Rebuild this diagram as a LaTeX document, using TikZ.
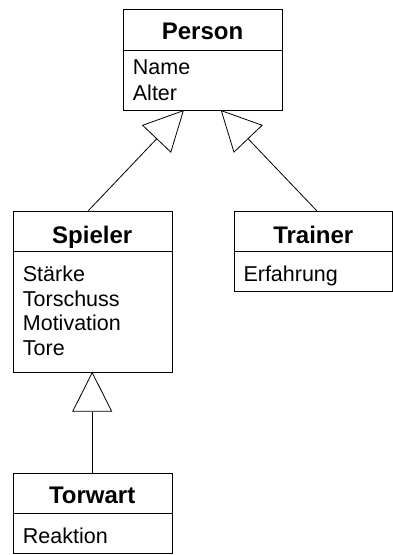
\documentclass[tikz,border=0pt]{standalone}
\usepackage{fontspec}
\setmainfont{Liberation Sans}
\usetikzlibrary{arrows.meta,calc}
\begin{document}
\begin{tikzpicture}[x=1pt,y=-1pt,
  classbox/.style={draw=black,line width=0.9pt,fill=white,inner sep=0pt,anchor=north west},
  divider/.style={draw=black,line width=0.9pt},
  titletext/.style={inner sep=0pt,anchor=base,font=\bfseries\fontsize{24}{28}\selectfont},
  attrtext/.style={inner sep=0pt,anchor=base west,font=\fontsize{21.5}{25}\selectfont},
  inherit/.style={draw=black,line width=0.8pt,-{Triangle[open,length=40pt,width=40pt,fill=white]}}
]
\useasboundingbox (0,0) rectangle (393,555);

% Person
\node[classbox,minimum width=158.4pt,minimum height=100.7pt] (person) at (123.3,9.3) {};
\draw[divider] ($(person.north west)+(0,40.7)$) -- ($(person.north east)+(0,40.7)$);
\node[titletext] (personT) at (202.5,39.3) {Person};
\node[attrtext] (personA1) at (132.7,74) {Name};
\node[attrtext] (personA2) at (132.7,100) {Alter};

% Spieler
\node[classbox,minimum width=159pt,minimum height=161pt] (spieler) at (12.7,210.7) {};
\draw[divider] ($(spieler.north west)+(0,40.3)$) -- ($(spieler.north east)+(0,40.3)$);
\node[titletext] (spielerT) at (92.2,243) {Spieler};
\node[attrtext] (spielerA1) at (22.7,281.7) {Stärke};
\node[attrtext] (spielerA2) at (22.7,306) {Torschuss};
\node[attrtext] (spielerA3) at (22.7,330.5) {Motivation};
\node[attrtext] (spielerA4) at (22.7,355) {Tore};

% Trainer
\node[classbox,minimum width=158pt,minimum height=80.3pt] (trainer) at (234.3,210.7) {};
\draw[divider] ($(trainer.north west)+(0,40.3)$) -- ($(trainer.north east)+(0,40.3)$);
\node[titletext] (trainerT) at (313.3,243) {Trainer};
\node[attrtext] (trainerA1) at (243.3,281.7) {Erfahrung};

% Torwart
\node[classbox,minimum width=159pt,minimum height=80pt] (torwart) at (12.7,473.3) {};
\draw[divider] ($(torwart.north west)+(0,40)$) -- ($(torwart.north east)+(0,40)$);
\node[titletext] (torwartT) at (92.2,503.3) {Torwart};
\node[attrtext] (torwartA1) at (22.7,543.3) {Reaktion};

% connection points
\coordinate (pL) at (184,110);
\coordinate (pR) at (220.7,110);
\coordinate (sTop) at (88.3,210.7);
\coordinate (tTop) at (316.7,210.7);
\coordinate (sBot) at (92.2,371.7);
\coordinate (wTop) at (92.2,473.3);

\draw[inherit] (sTop) -- (pL);
\draw[inherit] (tTop) -- (pR);
\draw[inherit] (wTop) -- (sBot);
\end{tikzpicture}
\end{document}
